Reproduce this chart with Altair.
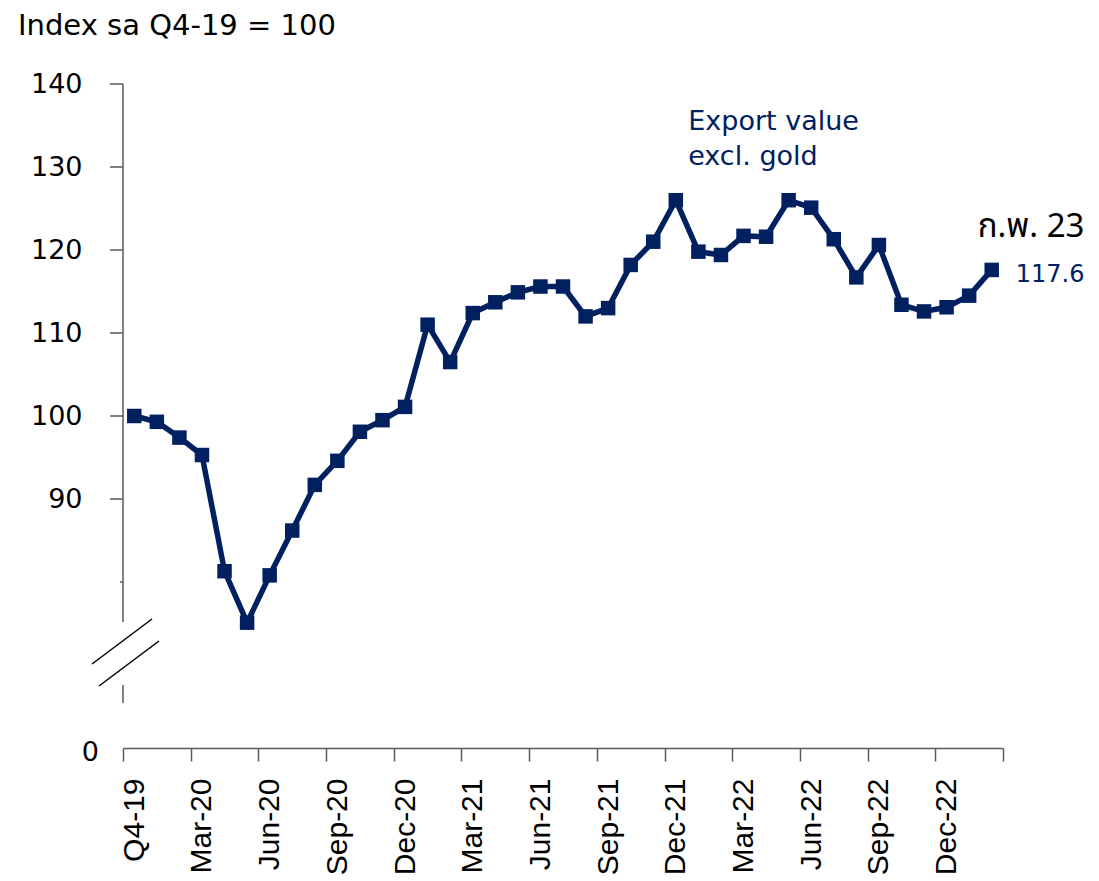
import altair as alt
import pandas as pd

# ---- data ----
periods = ["Q4-19",
           "Jan-20", "Feb-20", "Mar-20", "Apr-20", "May-20", "Jun-20",
           "Jul-20", "Aug-20", "Sep-20", "Oct-20", "Nov-20", "Dec-20",
           "Jan-21", "Feb-21", "Mar-21", "Apr-21", "May-21", "Jun-21",
           "Jul-21", "Aug-21", "Sep-21", "Oct-21", "Nov-21", "Dec-21",
           "Jan-22", "Feb-22", "Mar-22", "Apr-22", "May-22", "Jun-22",
           "Jul-22", "Aug-22", "Sep-22", "Oct-22", "Nov-22", "Dec-22",
           "Jan-23", "Feb-23"]
values = [100.0, 99.3, 97.4, 95.3, 81.3, 75.1, 80.8,
          86.2, 91.7, 94.6, 98.1, 99.5, 101.1,
          111.0, 106.5, 112.4, 113.7, 114.9, 115.6,
          115.6, 112.0, 113.0, 118.2, 121.0, 126.0,
          119.8, 119.4, 121.7, 121.6, 126.0, 125.1,
          121.3, 116.7, 120.6, 113.4, 112.6, 113.1,
          114.5, 117.6]
x_labels = ["Q4-19", "Mar-20", "Jun-20", "Sep-20", "Dec-20", "Mar-21",
            "Jun-21", "Sep-21", "Dec-21", "Mar-22", "Jun-22", "Sep-22", "Dec-22"]
y_labels = [90, 100, 110, 120, 130, 140]
y_minor_tick = [80]
y_bottom = 60          # axis bottom, labelled "0" (broken axis)
y_top = 140

title_text = "Index sa Q4-19 = 100"
series_label = ["Export value", "excl. gold"]
last_label = "ก.พ. 23"
last_value_text = "117.6"

NAVY = "#002060"
GRAY = "#595959"

df = pd.DataFrame({"idx": list(range(len(periods))), "period": periods, "value": values})

n = len(periods)
x_dom = [-0.5, n - 0.5]
tick_pos = [-0.5 + 3 * k for k in range(len(x_labels) + 1)]
arr = "[" + ",".join("'%s'" % l for l in x_labels) + "]"
label_expr = arr + "[round((datum.value + 0.5) / 3)] || ''"

W, H = 880, 664
band = W / n

xscale = alt.Scale(domain=x_dom, nice=False, zero=False)
yscale = alt.Scale(domain=[y_bottom, y_top], nice=False, zero=False)

x_axis = alt.Axis(
    values=tick_pos, labelExpr=label_expr, title=None, grid=False,
    domainColor=GRAY, domainWidth=1.5, tickColor=GRAY, tickWidth=1.5, tickSize=13,
    labelAngle=270, labelAlign="right", labelBaseline="middle",
    labelFont="Liberation Sans", labelFontSize=30, labelColor="black",
    labelPadding=17, labelOffset=band / 2, labelFlush=False,
    labelOverlap=False, labelBound=False)
y_axis = alt.Axis(
    values=y_labels, title=None, grid=False, domain=False, ticks=False,
    labelFont="DejaVu Sans", labelFontSize=27, labelColor="black",
    labelPadding=41)

line = alt.Chart(df).mark_line(
    color=NAVY, strokeWidth=5.5,
    point=alt.OverlayMarkDef(shape="square", size=210, filled=True, color=NAVY, opacity=1)
).encode(
    x=alt.X("idx:Q", scale=xscale, axis=x_axis),
    y=alt.Y("value:Q", scale=yscale, axis=y_axis)
)

ytick_df = pd.DataFrame({"value": y_labels})
yticks = alt.Chart(ytick_df).mark_rule(color=GRAY, strokeWidth=1.5).encode(
    y=alt.Y("value:Q", scale=yscale, axis=y_axis), x=alt.value(-13), x2=alt.value(0))
yminor = alt.Chart(pd.DataFrame({"value": y_minor_tick})).mark_rule(color=GRAY, strokeWidth=1.5).encode(
    y=alt.Y("value:Q", scale=yscale, axis=y_axis), x=alt.value(-3), x2=alt.value(0))

one = pd.DataFrame({"a": [0]})
yaxis_top = alt.Chart(one).mark_rule(color=GRAY, strokeWidth=1.5).encode(
    x=alt.value(0), y=alt.value(0), y2=alt.value(538))
yaxis_mid = alt.Chart(one).mark_rule(color=GRAY, strokeWidth=1.5).encode(
    x=alt.value(0), y=alt.value(601), y2=alt.value(619))
brk1 = alt.Chart(one).mark_rule(color="black", strokeWidth=1.5).encode(
    x=alt.value(-31), y=alt.value(580), x2=alt.value(29), y2=alt.value(535))
brk2 = alt.Chart(one).mark_rule(color="black", strokeWidth=1.5).encode(
    x=alt.value(-24), y=alt.value(602), x2=alt.value(36), y2=alt.value(557))

zero_lbl = alt.Chart(pd.DataFrame({"value": [y_bottom], "t": ["0"]})).mark_text(
    font="DejaVu Sans", fontSize=27, color="black", align="right", baseline="middle", dy=5
).encode(y=alt.Y("value:Q", scale=yscale, axis=y_axis), x=alt.value(-24), text="t:N")

title = alt.Chart(one).mark_text(
    text=title_text, font="DejaVu Sans", fontSize=29, color="black",
    align="left", baseline="alphabetic").encode(x=alt.value(-105), y=alt.value(-49))

ser = alt.Chart(pd.DataFrame({"idx": [24.55], "value": [134.5]})).mark_text(
    text=series_label, font="DejaVu Sans", fontSize=27, color=NAVY,
    align="left", baseline="alphabetic", lineHeight=35
).encode(x=alt.X("idx:Q", scale=xscale, axis=x_axis), y=alt.Y("value:Q", scale=yscale, axis=y_axis))

last = df.tail(1)
lastlbl = alt.Chart(last).mark_text(
    text=last_label, font="Noto Sans Thai, Loma, Garuda, DejaVu Sans", fontSize=33, color="black",
    align="left", baseline="alphabetic", dx=-14, dy=-33
).encode(x=alt.X("idx:Q", scale=xscale, axis=x_axis), y=alt.Y("value:Q", scale=yscale, axis=y_axis))
lastval = alt.Chart(last).mark_text(
    text=last_value_text, font="DejaVu Sans", fontSize=24, color=NAVY,
    align="left", baseline="alphabetic", dx=24, dy=12
).encode(x=alt.X("idx:Q", scale=xscale, axis=x_axis), y=alt.Y("value:Q", scale=yscale, axis=y_axis))

chart = alt.layer(
    yaxis_top, yaxis_mid, brk1, brk2, yticks, yminor, line, zero_lbl, title, ser, lastlbl, lastval
).properties(
    width=W, height=H,
    autosize=alt.AutoSizeParams(type="none"),
    padding={"left": 115, "top": 76, "right": 88, "bottom": 133},
    background="white"
).configure_view(stroke=None)

chart.save("out.html", embed_options={"renderer": "svg", "actions": False})
